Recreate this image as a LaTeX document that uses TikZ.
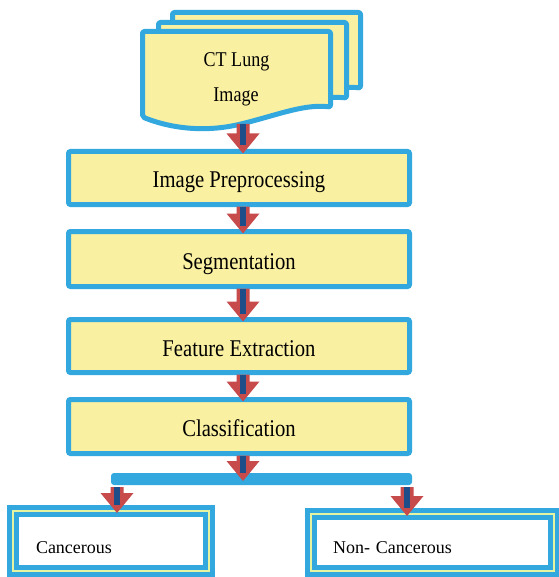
\documentclass[tikz,border=0pt]{standalone}
\usepackage{fontspec}
\setmainfont{Liberation Serif}
\newfontfamily\narrowserif{Liberation Serif}[FakeStretch=0.86]
\usetikzlibrary{calc}

\definecolor{docblue}{HTML}{33A8DF}
\definecolor{boxyellow}{HTML}{FAF0A2}
\definecolor{paleline}{HTML}{E6F3A0}
\definecolor{arrowred}{HTML}{C84B4B}
\definecolor{arrowblue}{HTML}{1D4E89}

% block arrow: red body with a dark blue core, column and start from #1, tip height from #2
\newcommand\flowarrow[2]{%
  \fill[arrowred] let \p1=(#1), \p2=(#2) in
    (\x1-6.5pt,\y1-2pt) -- (\x1+6.5pt,\y1-2pt) -- (\x1+6.5pt,\y2+18pt)
    -- (\x1+16.5pt,\y2+18pt) -- (\x1,\y2-2pt) -- (\x1-16.5pt,\y2+18pt)
    -- (\x1-6.5pt,\y2+18pt) -- cycle;
  \fill[arrowblue] let \p1=(#1), \p2=(#2) in
    (\x1-2.8pt,\y1-2pt) rectangle (\x1+2.8pt,\y2+6pt);
}

\tikzset{
  stepbox/.style={draw=docblue, fill=boxyellow, line width=5pt, rounded corners=2pt,
    outer sep=0pt, inner sep=0pt, minimum width=341pt,
    font=\narrowserif\fontsize{24}{26}\selectfont, text height=20pt, text depth=0pt},
  page/.style={draw=docblue, fill=boxyellow, line width=5pt, rounded corners=2pt, line join=round},
  pagetext/.style={anchor=base, inner sep=0pt, font=\narrowserif\fontsize{21}{24}\selectfont},
  result/.style={draw=docblue, double=paleline, double distance=2pt, line width=5pt,
    fill=white, outer sep=0pt, inner ysep=0pt, align=left,
    font=\fontsize{18}{20}\selectfont, text depth=0pt},
  bar/.style={fill=docblue, rounded corners=3pt, inner sep=0pt, outer sep=0pt},
}

\begin{document}
\begin{tikzpicture}[x=1pt, y=-1pt]
\useasboundingbox[fill=white] (0,0) rectangle (558,577);

% stacked document sheets
\foreach \dx/\dy in {30/-19, 16/-9, 0/0}
  \draw[page, shift={(\dx,\dy)}] (142.5,31.5) -- (330.5,31.5) -- (330.5,107)
    .. controls (305,104) and (280,114) .. (245,123)
    .. controls (210,132) and (175,130) .. (142.5,117) -- cycle;
\node[pagetext] (ct1) at (236.5,67) {CT Lung};
\node[pagetext] (ct2) at (236,102) {Image};
\coordinate (docout) at (243,122);

% arrow columns
\coordinate (colc) at (243,0);
\coordinate (coll) at (117,0);
\coordinate (colr) at (407,0);

% process steps
\node[stepbox, minimum height=53pt] (pre) at (239,178)   {Image Preprocessing};
\node[stepbox, minimum height=55pt] (seg) at (239,259)   {Segmentation};
\node[stepbox, minimum height=53pt] (feat) at (239,346)  {Feature Extraction};
\node[stepbox, minimum height=54pt] (cls) at (239,426.5) {Classification};

% branching bar
\node[bar, minimum width=301pt, minimum height=12pt] (bar) at (261.5,479) {};

% outcomes
\node[result, minimum width=196pt, minimum height=60pt, inner xsep=23pt,
      text width=150pt, text height=24pt] (can) at (111,541) {Cancerous};
\node[result, minimum width=243pt, minimum height=57pt, inner xsep=22pt,
      text width=199pt, text height=21pt] (non) at (432.5,542.5) {Non- Cancerous};

% flow arrows
\flowarrow{docout}{pre.north -| docout}
\flowarrow{pre.south -| colc}{seg.north -| colc}
\flowarrow{seg.south -| colc}{feat.north -| colc}
\flowarrow{feat.south -| colc}{cls.north -| colc}
\flowarrow{cls.south -| colc}{bar.center -| colc}
\flowarrow{bar.south -| coll}{can.north -| coll}
\flowarrow{bar.south -| colr}{non.north -| colr}
\end{tikzpicture}
\end{document}
